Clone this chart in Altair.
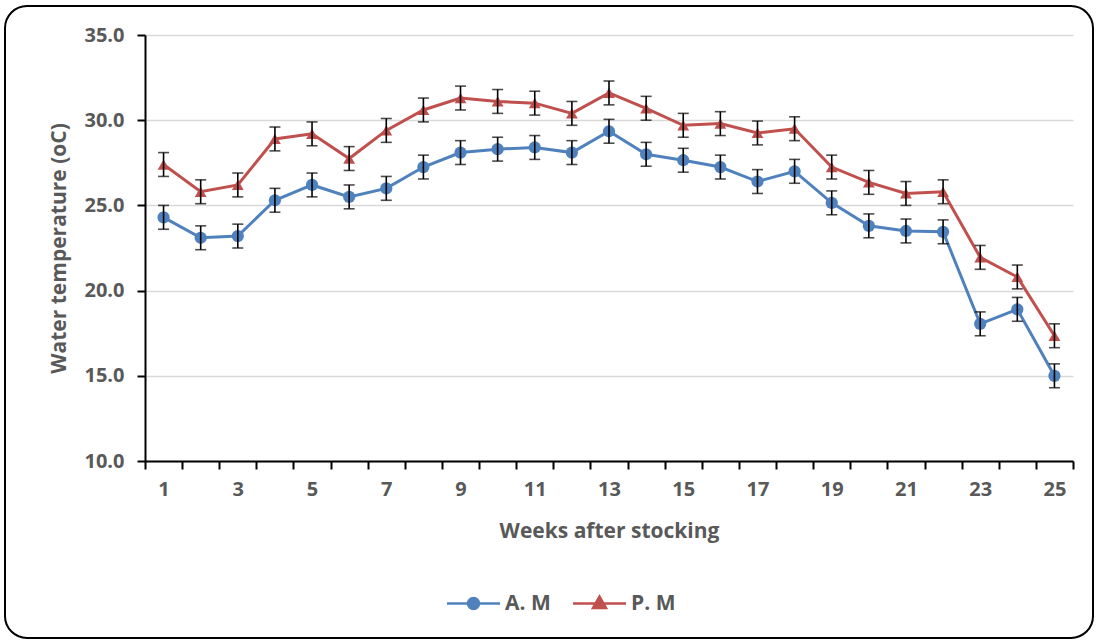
import altair as alt
import pandas as pd

weeks = list(range(1, 26))
am_values = [24.3, 23.1, 23.2, 25.3, 26.2, 25.5, 26.0, 27.25, 28.1, 28.3, 28.4, 28.1, 29.35,
             28.0, 27.65, 27.25, 26.4, 27.0, 25.15, 23.8, 23.5, 23.45, 18.05, 18.9, 15.0]
pm_values = [27.4, 25.8, 26.2, 28.9, 29.2, 27.75, 29.4, 30.6, 31.3, 31.1, 31.0, 30.4, 31.6,
             30.7, 29.7, 29.8, 29.25, 29.5, 27.25, 26.35, 25.7, 25.8, 21.95, 20.8, 17.35]
am_err = [0.7] * 25
pm_err = [0.7] * 25
series_names = ["A. M", "P. M"]
series_colors = ["#4F81BD", "#C0504D"]
y_ticks = [10, 15, 20, 25, 30, 35]
x_tick_values = [w - 0.5 for w in weeks] + [w for w in weeks] + [weeks[-1] + 0.5]

rows = []
for name, vals, errs in [(series_names[0], am_values, am_err), (series_names[1], pm_values, pm_err)]:
    for w, v, e in zip(weeks, vals, errs):
        rows.append({"week": w, "series": name, "value": v, "lo": v - e, "hi": v + e})
df = pd.DataFrame(rows)

FONT = "Open Sans"
TXT = "#595959"

x_axis = alt.Axis(
    values=sorted(x_tick_values), tickCount=200,
    labelExpr="datum.value % 2 == 1 ? format(datum.value, 'd') : ''",
    tickOpacity={"expr": "datum.value % 1 == 0.5 ? 1 : 0"},
    labelOverlap=False, grid=False, domainColor="black", domainWidth=2, tickColor="black",
    tickWidth=2, tickSize=8, labelPadding=10, labelFont=FONT, labelFontWeight="bold",
    labelFontSize=20, labelColor=TXT, title="Weeks after stocking", titleFont=FONT,
    titleFontWeight="bold", titleFontSize=21, titleColor=TXT, titleBaseline="middle", titleY=70,
)
y_axis = alt.Axis(
    values=y_ticks, format=".1f", grid=True, gridColor="#D9D9D9", gridWidth=1.5,
    domainColor="black", domainWidth=2, tickColor="black", tickWidth=2, tickSize=8,
    labelPadding=13, labelFont=FONT, labelFontWeight="bold", labelFontSize=20, labelColor=TXT,
    title="Water temperature (oC)", titleFont=FONT, titleFontWeight="bold", titleFontSize=21,
    titleColor=TXT, titleBaseline="middle", titleX=-86, titleY=213,
)
x_enc = alt.X("week:Q", scale=alt.Scale(domain=[0.5, 25.5], nice=False, zero=False), axis=x_axis)
y_enc = alt.Y("value:Q", scale=alt.Scale(domain=[10, 35], nice=False, zero=False), axis=y_axis)

base = alt.Chart(df)
color_scale = alt.Scale(domain=series_names, range=series_colors)

lines = base.mark_line(strokeWidth=3).encode(
    x=x_enc, y=y_enc, color=alt.Color("series:N", scale=color_scale, legend=None)
)
pts_am = base.transform_filter(alt.datum.series == series_names[0]).mark_point(
    shape="circle", filled=True, size=150, opacity=1, color=series_colors[0]
).encode(x="week:Q", y="value:Q")
pts_pm = base.transform_filter(alt.datum.series == series_names[1]).mark_point(
    shape="triangle-up", filled=True, size=140, opacity=1, color=series_colors[1]
).encode(x="week:Q", y="value:Q")
err_rule = base.mark_rule(color="black", strokeWidth=1.6).encode(x="week:Q", y="lo:Q", y2="hi:Q")
cap_lo = base.mark_tick(color="black", orient="horizontal", size=11, thickness=1.6).encode(x="week:Q", y="lo:Q")
cap_hi = base.mark_tick(color="black", orient="horizontal", size=11, thickness=1.6).encode(x="week:Q", y="hi:Q")

# legend entries: line stub with marker (custom symbol paths), one single-entry legend per series
circle_path = "M-5.3,0L5.3,0M-1.1,0A1.1,1.1 0 1,1 1.1,0A1.1,1.1 0 1,1 -1.1,0Z"
tri_path = "M-5.3,0L5.3,0M-1.3,0.9L1.3,0.9L0,-1.4Z"


def make_leg(sym, col, lx):
    return alt.Legend(
        title=None, orient="none", direction="horizontal", legendX=lx, legendY=558, padding=0,
        symbolType=sym, symbolSize=100, symbolStrokeWidth=2.5, symbolFillColor=col,
        symbolStrokeColor=col, symbolOpacity=1, labelOffset=21,
        labelFont=FONT, labelFontWeight="bold", labelFontSize=21, labelColor=TXT,
    )


leg_am = alt.Chart(df).transform_filter("false").mark_point(
    filled=True, fill=series_colors[0], stroke=series_colors[0], strokeWidth=2.5
).encode(
    x="week:Q", y="value:Q",
    fill=alt.Fill("series:N", scale=alt.Scale(domain=[series_names[0]], range=[series_colors[0]]),
                  legend=make_leg(circle_path, series_colors[0], 318)),
)
leg_pm = alt.Chart(df).transform_filter("false").mark_point(
    filled=True, fill=series_colors[1], stroke=series_colors[1], strokeWidth=2.5
).encode(
    x="week:Q", y="value:Q",
    stroke=alt.Stroke("series:N", scale=alt.Scale(domain=[series_names[1]], range=[series_colors[1]]),
                      legend=make_leg(tri_path, series_colors[1], 444)),
)

border = alt.Chart(pd.DataFrame({"frame": [0]})).mark_rect(
    fillOpacity=0, stroke="black", strokeWidth=2, cornerRadius=22
).encode(x=alt.value(-140), x2=alt.value(948), y=alt.value(-29), y2=alt.value(603))

chart = alt.layer(lines, pts_am, pts_pm, err_rule, cap_lo, cap_hi, leg_am, leg_pm, border).properties(
    width=928, height=426, autosize=alt.AutoSizeParams(type="none"),
    padding={"left": 145, "top": 35, "right": 25, "bottom": 180}, background="white",
).configure_view(stroke=None)

chart.save("out.html", embed_options={"renderer": "svg", "actions": False})
